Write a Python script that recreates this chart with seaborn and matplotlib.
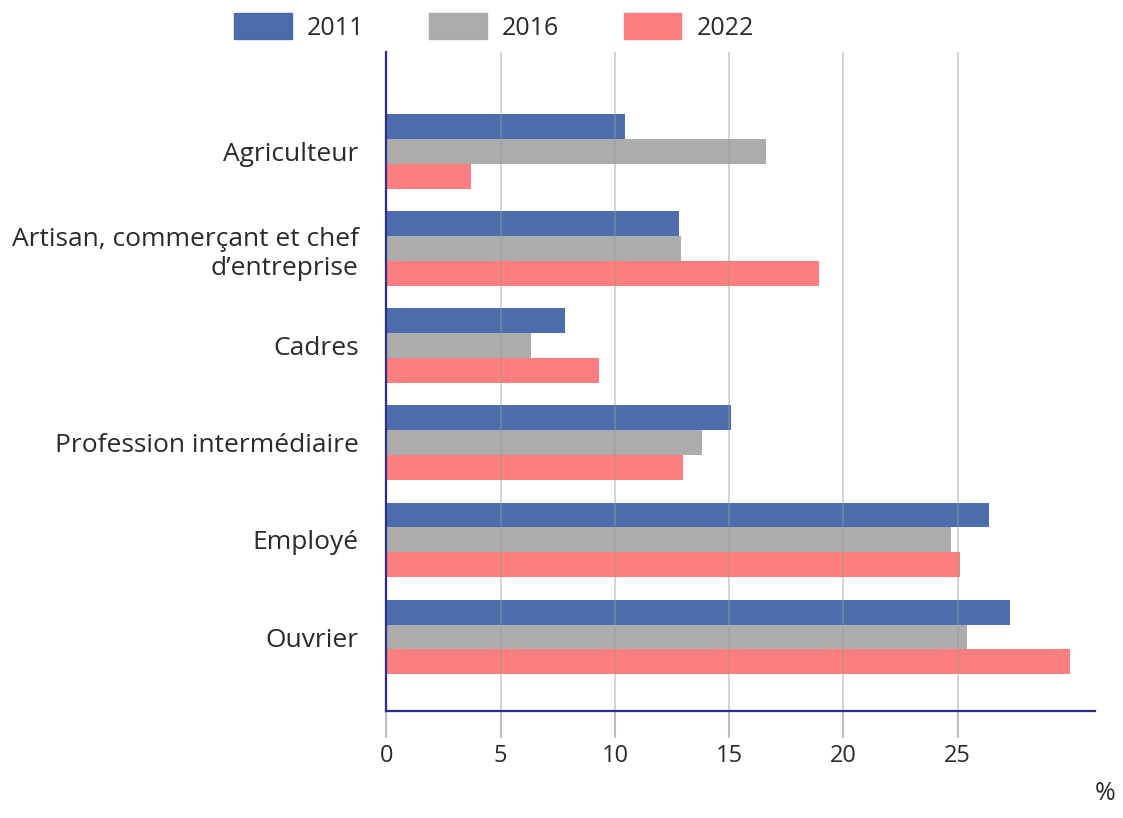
import pandas as pd
import matplotlib
matplotlib.use('Agg')
import matplotlib.pyplot as plt
import seaborn as sns

# Data (%)
categories = ['Agriculteur', 'Artisan, commerçant et chef\nd\u2019entreprise', 'Cadres',
              'Profession intermédiaire', 'Employé', 'Ouvrier']
years = ['2011', '2016', '2022']
values_2011 = [10.45, 12.8, 7.8, 15.1, 26.35, 27.3]
values_2016 = [16.6, 12.9, 6.35, 13.8, 24.7, 25.4]
values_2022 = [3.7, 18.95, 9.3, 13.0, 25.1, 29.9]
x_ticks = [0, 5, 10, 15, 20, 25]
colors = ['#4667a8', '#a9a9a9', '#fd7a7a']


def main():
    df = pd.DataFrame({
        'categorie': categories * 3,
        'annee': [y for y in years for _ in categories],
        'valeur': values_2011 + values_2016 + values_2022,
    })

    sns.set_theme(style='white')
    plt.rcParams['font.family'] = ['Open Sans', 'DejaVu Sans']

    fig = plt.figure(figsize=(11.23, 8.18), dpi=100)
    ax = fig.add_axes([0.344, 0.131, 0.631, 0.805])

    sns.barplot(data=df, y='categorie', x='valeur', hue='annee', orient='h',
                palette=colors, width=0.77, saturation=1, alpha=0.97, linewidth=0,
                order=categories, hue_order=years, ax=ax, legend=False)

    ax.set_xlim(0, 31)
    ax.set_ylim(5.76, -1.02)
    ax.set_xticks(x_ticks)
    ax.set_xlabel('')
    ax.set_ylabel('')

    # vertical grid drawn over the bars
    ax.set_axisbelow(False)
    ax.grid(axis='x', color='#9a9a9a', alpha=0.45, linewidth=1.3)
    ax.grid(axis='y', visible=False)

    # grid lines continue a little below the axis (tick marks)
    for t in x_ticks:
        ax.plot([t, t], [-0.04, 0.0], transform=ax.get_xaxis_transform(),
                color='#bdbdbd', linewidth=1.5, clip_on=False, zorder=6)

    for side in ['top', 'right']:
        ax.spines[side].set_visible(False)
    for side in ['left', 'bottom']:
        ax.spines[side].set_color('#2d2d8a')
        ax.spines[side].set_linewidth(1.6)
        ax.spines[side].set_zorder(7)

    ax.tick_params(axis='x', length=0, pad=24, labelsize=17, labelcolor='#2a2a2a')
    ax.tick_params(axis='y', length=0, pad=20, labelsize=19, labelcolor='#2a2a2a')
    for lab in ax.get_yticklabels():
        lab.set_linespacing(1.25)

    fig.text(0.984, 0.015, '%', ha='center', va='bottom', fontsize=18, color='#2a2a2a')

    handles = [plt.Rectangle((0, 0), 1, 1, color=c, alpha=0.97) for c in colors]
    fig.legend(handles, years, loc='center', bbox_to_anchor=(0.44, 0.967), ncol=3,
               frameon=False, fontsize=18, handlelength=2.3, handleheight=1.2,
               handletextpad=0.6, columnspacing=2.6, labelcolor='#2a2a2a')

    fig.savefig('out.png', dpi=100)


if __name__ == '__main__':
    main()
